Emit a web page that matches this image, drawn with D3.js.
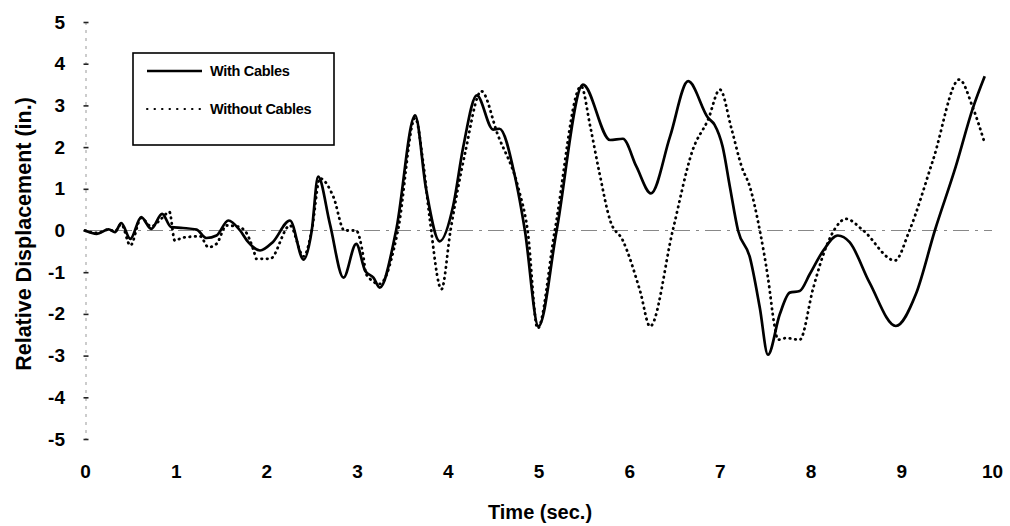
<!DOCTYPE html>
<html>
<head>
<meta charset="utf-8">
<script src="https://cdn.jsdelivr.net/npm/d3@7"></script>
<style>
  html, body { margin: 0; padding: 0; background: #fff; }
  svg { display: block; }
</style>
</head>
<body>
<svg id="chart" width="1010" height="526"></svg>
<script>
// time (sec.) and relative displacement (in.)
const withTime = [0, 0.13, 0.26, 0.33, 0.40, 0.50, 0.62, 0.73, 0.85, 0.95, 1.08, 1.23, 1.34, 1.45, 1.58, 1.71, 1.80, 1.93, 2.07, 2.26, 2.41, 2.50, 2.57, 2.70, 2.85, 2.99, 3.09, 3.18, 3.25, 3.43, 3.64, 3.76, 3.91, 4.06, 4.17, 4.32, 4.50, 4.57, 4.74, 4.85, 5.00, 5.20, 5.49, 5.79, 5.93, 6.08, 6.24, 6.45, 6.65, 6.87, 6.94, 7.03, 7.11, 7.20, 7.33, 7.44, 7.53, 7.66, 7.77, 7.88, 7.99, 8.14, 8.30, 8.43, 8.65, 8.94, 9.16, 9.37, 9.60, 9.79, 9.92];
const withDisp = [0, -0.08, 0.03, -0.04, 0.18, -0.2, 0.32, 0.04, 0.4, 0.08, 0.06, 0.02, -0.18, -0.12, 0.24, 0, -0.28, -0.48, -0.28, 0.24, -0.7, 0, 1.29, 0.16, -1.13, -0.32, -0.97, -1.13, -1.37, 0, 2.76, 1.0, -0.26, 0.6, 2.0, 3.24, 2.42, 2.44, 1.3, 0, -2.3, 0, 3.5, 2.17, 2.2, 1.53, 0.89, 2.25, 3.58, 2.7, 2.54, 2.01, 1.05, 0, -0.64, -1.85, -2.98, -2.01, -1.49, -1.45, -1.05, -0.48, -0.12, -0.28, -1.25, -2.29, -1.53, 0, 1.53, 2.94, 3.7];

const withoutTime = [0, 0.13, 0.26, 0.33, 0.40, 0.50, 0.62, 0.73, 0.85, 0.93, 0.99, 1.08, 1.27, 1.36, 1.45, 1.56, 1.67, 1.76, 1.86, 1.89, 2.04, 2.26, 2.41, 2.50, 2.59, 2.74, 2.86, 2.99, 3.07, 3.10, 3.25, 3.45, 3.64, 3.73, 3.80, 3.93, 4.03, 4.19, 4.37, 4.55, 4.78, 4.88, 4.99, 5.18, 5.47, 5.57, 5.67, 5.79, 5.93, 6.12, 6.23, 6.48, 6.70, 6.87, 7.00, 7.13, 7.24, 7.33, 7.44, 7.53, 7.60, 7.64, 7.73, 7.88, 8.03, 8.17, 8.28, 8.39, 8.58, 8.93, 9.09, 9.35, 9.64, 9.79, 9.92];
const withoutDisp = [0, -0.06, 0.02, -0.02, 0.15, -0.36, 0.3, 0.1, 0.3, 0.45, -0.24, -0.17, -0.14, -0.4, -0.32, 0.12, 0.1, 0, -0.48, -0.68, -0.68, 0.12, -0.62, 0, 1.25, 0.8, 0, 0, -0.64, -1.05, -1.28, 0, 2.7, 1.6, 0.3, -1.41, 0, 1.85, 3.34, 2.3, 1.0, 0, -2.35, 0, 3.46, 2.5, 1.4, 0.24, -0.24, -1.45, -2.3, 0, 1.93, 2.66, 3.38, 2.42, 1.53, 1.05, 0, -1.13, -2.25, -2.62, -2.58, -2.62, -1.37, -0.4, 0.08, 0.28, 0, -0.72, 0, 1.69, 3.62, 2.94, 2.09];

const xTicks = [0, 1, 2, 3, 4, 5, 6, 7, 8, 9, 10];
const yTicks = [5, 4, 3, 2, 1, 0, -1, -2, -3, -4, -5];
const seriesNames = ["With Cables", "Without Cables"];

const X_TITLE = "Time (sec.)";
const Y_TITLE = "Relative Displacement (in.)";

const svg = d3.select("#chart");

const PLOT = { left: 85, right: 992, top: 22, bottom: 439 };
const FONT = "'Liberation Sans', Arial, sans-serif";

const x = d3.scaleLinear().domain([0, 10]).range([PLOT.left, PLOT.right]);
const y = d3.scaleLinear().domain([-5, 5]).range([PLOT.bottom, PLOT.top]);

// plain hyphen for negatives, like the original
const tickText = (d) => String(d);

function drawAxes() {
  // y axis: faint dashed spine with small cross ticks
  svg.append("line")
    .attr("x1", x(0) + 1).attr("x2", x(0) + 1)
    .attr("y1", y(5)).attr("y2", y(-5))
    .attr("stroke", "#999").attr("stroke-width", 1)
    .attr("stroke-dasharray", "3 5");

  const yAxis = svg.append("g")
    .attr("transform", `translate(${x(0) + 1},0)`)
    .call(d3.axisLeft(y).tickValues(yTicks).tickSize(0).tickPadding(21).tickFormat(tickText));
  yAxis.select(".domain").remove();
  yAxis.selectAll("text")
    .attr("font-family", FONT).attr("font-weight", "bold")
    .attr("font-size", 19).attr("fill", "#000");
  yAxis.selectAll(".tick").append("line")
    .attr("x1", -2.5).attr("x2", 2.5)
    .attr("stroke", "#222").attr("stroke-width", 1.6);

  const xAxis = svg.append("g")
    .attr("transform", `translate(0,${PLOT.bottom + 25})`)
    .call(d3.axisBottom(x).tickValues(xTicks).tickSize(0).tickPadding(0).tickFormat(tickText));
  xAxis.select(".domain").remove();
  xAxis.selectAll("text")
    .attr("font-family", FONT).attr("font-weight", "bold")
    .attr("font-size", 19).attr("fill", "#000");

  // zero reference line, dash-dot
  svg.append("line")
    .attr("x1", x(0)).attr("x2", x(10))
    .attr("y1", y(0)).attr("y2", y(0))
    .attr("stroke", "#888").attr("stroke-width", 1.2)
    .attr("stroke-dasharray", "16 6 3 6");

  svg.append("text")
    .attr("x", 540)
    .attr("y", 519)
    .attr("text-anchor", "middle")
    .attr("font-family", FONT).attr("font-weight", "bold")
    .attr("font-size", 20)
    .text(X_TITLE);

  svg.append("text")
    .attr("transform", `translate(31,234) rotate(-90)`)
    .attr("text-anchor", "middle")
    .attr("font-family", FONT).attr("font-weight", "bold")
    .attr("font-size", 21.5)
    .text(Y_TITLE);
}

function drawLines() {
  const line = d3.line()
    .x((d) => x(d[0]))
    .y((d) => y(d[1]))
    .curve(d3.curveMonotoneX);

  const withData = d3.zip(withTime, withDisp);
  const withoutData = d3.zip(withoutTime, withoutDisp);

  svg.append("path")
    .datum(withoutData)
    .attr("d", line)
    .attr("fill", "none")
    .attr("stroke", "#000")
    .attr("stroke-width", 2.8)
    .attr("stroke-linecap", "round")
    .attr("stroke-dasharray", "0.5 5");

  svg.append("path")
    .datum(withData)
    .attr("d", line)
    .attr("fill", "none")
    .attr("stroke", "#000")
    .attr("stroke-width", 2.7)
    .attr("stroke-linejoin", "round");
}

function drawLegend() {
  const box = { x: 133, y: 53, w: 201, h: 92 };
  const g = svg.append("g");
  g.append("rect")
    .attr("x", box.x).attr("y", box.y)
    .attr("width", box.w).attr("height", box.h)
    .attr("fill", "#fff").attr("stroke", "#000").attr("stroke-width", 1.6);

  const rows = seriesNames.map((name, i) => ({ name, y: box.y + 18 + i * 38, dashed: i === 1 }));

  g.selectAll("line.key")
    .data(rows)
    .join("line")
    .attr("class", "key")
    .attr("x1", box.x + 14).attr("x2", box.x + 69)
    .attr("y1", (d) => d.y).attr("y2", (d) => d.y)
    .attr("stroke", "#000")
    .attr("stroke-width", (d) => (d.dashed ? 2 : 2.4))
    .attr("stroke-linecap", (d) => (d.dashed ? "round" : "butt"))
    .attr("stroke-dasharray", (d) => (d.dashed ? "0.5 7" : null));

  g.selectAll("text.key")
    .data(rows)
    .join("text")
    .attr("class", "key")
    .attr("x", box.x + 77)
    .attr("y", (d) => d.y)
    .attr("dy", "0.35em")
    .attr("font-family", FONT).attr("font-weight", "bold")
    .attr("font-size", 14.5)
    .attr("letter-spacing", -0.3)
    .text((d) => d.name);
}

drawAxes();
drawLines();
drawLegend();
</script>
</body>
</html>
